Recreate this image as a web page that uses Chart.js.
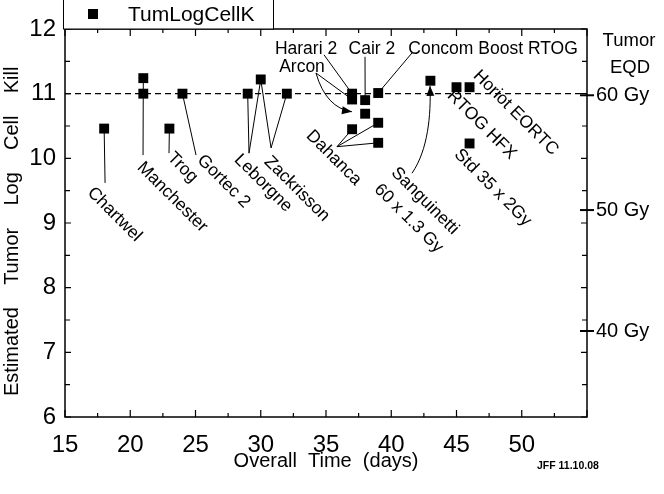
<!DOCTYPE html>
<html><head><meta charset="utf-8">
<script src="https://cdn.jsdelivr.net/npm/chart.js@4.4.0/dist/chart.umd.min.js"></script>
<style>html,body{margin:0;padding:0;background:#fff;}canvas{display:block;}</style>
</head><body>
<canvas id="c" width="664" height="494"></canvas>
<script>
// ---------- data ----------
const seriesName = 'TumLogCellK';
const days    = [18, 21, 21, 23, 24, 29, 30, 32, 37, 37, 37, 38, 38, 39, 39, 39, 43, 45, 46, 46];
const logKill = [10.46, 11.24, 11.0, 10.46, 11.0, 11.0, 11.22, 11.0, 11.0, 10.91, 10.45, 10.9, 10.69, 11.01, 10.55, 10.24, 11.2, 11.1, 11.1, 10.23];
const refLevel = 11;
const xRange = [15, 55];
const yRange = [6, 12];
const eqdLabels = ['60 Gy', '50 Gy', '40 Gy'];
const eqdValues = [10.975, 9.2, 7.33];

// ---------- annotations (data coordinates) ----------
const notes = [
  {text:'Chartwel', at:[16.92, 9.51], rot:45},
  {text:'Manchester', at:[20.75, 9.90], rot:45},
  {text:'Trog', at:[23.05, 10.05], rot:45},
  {text:'Gortec 2', at:[25.34, 10.01], rot:45},
  {text:'Leborgne', at:[28.18, 10.02], rot:45},
  {text:'Zackrisson', at:[30.48, 9.99], rot:45},
  {text:'Dahanca', at:[33.70, 10.39], rot:45},
  {text:'Sanguinetti', at:[40.21, 9.82], rot:45},
  {text:'60 x 1.3 Gy', at:[38.91, 9.56], rot:45},
  {text:'Std 35 x 2Gy', at:[45.04, 10.10], rot:45},
  {text:'RTOG HFX', at:[44.50, 11.01], rot:45},
  {text:'Horiot EORTC', at:[46.49, 11.32], rot:45},
  {text:'Harari 2', at:[33.47, 11.69], rot:0},
  {text:'Arcon', at:[33.16, 11.41], rot:0},
  {text:'Cair 2', at:[38.52, 11.69], rot:0},
  {text:'Concom Boost RTOG', at:[47.80, 11.69], rot:0}
];
const leaders = [
  {from:[18, 10.46], to:[18.07, 9.62]},
  {from:[21, 11.24], to:[20.98, 10.05]},
  {from:[23, 10.46], to:[22.97, 10.08]},
  {from:[24, 11.0], to:[25.04, 10.05]},
  {from:[29, 11.0], to:[29.10, 10.08]},
  {from:[30, 11.22], to:[29.10, 10.08]},
  {from:[30, 11.22], to:[30.79, 10.16]},
  {from:[32, 11.0], to:[30.79, 10.16]},
  {from:[37, 10.45], to:[35.84, 10.18]},
  {from:[39, 10.55], to:[35.84, 10.18]},
  {from:[39, 10.24], to:[35.84, 10.18]},
  {from:[37, 11.0], to:[34.85, 11.60]},
  {from:[37, 10.91], to:[34.23, 11.32]},
  {from:[38, 10.9], to:[37.99, 11.57]},
  {from:[39, 11.01], to:[41.59, 11.63]}
];
const curves = [
  {path:[[34.23, 11.32],[35.0, 10.78],[36.99, 10.72]]},
  {path:[[41.59, 9.77],[42.82, 10.13],[43.05, 10.67],[42.97, 11.12]]}
];

const F = '"Liberation Sans", Arial, Helvetica, sans-serif';
function toPx(chart, p){ return [chart.scales.x.getPixelForValue(p[0]), chart.scales.y.getPixelForValue(p[1])]; }

const decor = {
  id:'decor',
  beforeDatasetsDraw(chart){
    const ctx = chart.ctx; ctx.save();
    ctx.strokeStyle = '#000'; ctx.fillStyle = '#000'; ctx.lineWidth = 1;
    leaders.forEach(l => {
      const a = toPx(chart, l.from), b = toPx(chart, l.to);
      ctx.beginPath(); ctx.moveTo(a[0], a[1]); ctx.lineTo(b[0], b[1]); ctx.stroke();
    });
    curves.forEach(c => {
      const p = c.path.map(q => toPx(chart, q));
      ctx.beginPath(); ctx.moveTo(p[0][0], p[0][1]);
      if (p.length === 3) ctx.quadraticCurveTo(p[1][0], p[1][1], p[2][0], p[2][1]);
      else ctx.bezierCurveTo(p[1][0], p[1][1], p[2][0], p[2][1], p[3][0], p[3][1]);
      ctx.stroke();
      const tip = p[p.length-1], prev = p[p.length-2];
      const ang = Math.atan2(tip[1]-prev[1], tip[0]-prev[0]);
      const L = 10, W = 4;
      ctx.beginPath(); ctx.moveTo(tip[0], tip[1]);
      ctx.lineTo(tip[0]-L*Math.cos(ang)+W*Math.sin(ang), tip[1]-L*Math.sin(ang)-W*Math.cos(ang));
      ctx.lineTo(tip[0]-L*Math.cos(ang)-W*Math.sin(ang), tip[1]-L*Math.sin(ang)+W*Math.cos(ang));
      ctx.closePath(); ctx.fill();
    });
    ctx.restore();
  },
  afterDatasetsDraw(chart){
    const ctx = chart.ctx; ctx.save();
    ctx.fillStyle = '#000'; ctx.font = '17.5px ' + F;
    notes.forEach(n => {
      const p = toPx(chart, n.at);
      ctx.save(); ctx.translate(p[0], p[1]);
      if (n.rot) { ctx.rotate(n.rot*Math.PI/180); ctx.textAlign = 'left'; }
      else ctx.textAlign = 'center';
      ctx.textBaseline = 'middle';
      ctx.fillText(n.text, 0, 0);
      ctx.restore();
    });
    ctx.restore();
  },
  afterDraw(chart){
    const ctx = chart.ctx, a = chart.chartArea;
    const xs = chart.scales.x, ys = chart.scales.y, y2 = chart.scales.y2;
    ctx.save();
    ctx.strokeStyle = '#000'; ctx.lineWidth = 1.5;
    ctx.strokeRect(a.left, a.top, a.right - a.left, a.bottom - a.top);
    ctx.lineWidth = 1.2;
    const xt = xs.ticks.map(t => t.value);
    xt.forEach((v, i) => {
      const x = xs.getPixelForValue(v);
      ctx.beginPath(); ctx.moveTo(x, a.bottom); ctx.lineTo(x, a.bottom - 7);
      ctx.moveTo(x, a.top); ctx.lineTo(x, a.top + 7); ctx.stroke();
      if (i < xt.length - 1) {
        const xm = xs.getPixelForValue((v + xt[i+1]) / 2);
        ctx.beginPath(); ctx.moveTo(xm, a.bottom); ctx.lineTo(xm, a.bottom - 4);
        ctx.moveTo(xm, a.top); ctx.lineTo(xm, a.top + 4); ctx.stroke();
      }
    });
    const yt = ys.ticks.map(t => t.value);
    yt.forEach((v, i) => {
      const y = ys.getPixelForValue(v);
      ctx.beginPath(); ctx.moveTo(a.left, y); ctx.lineTo(a.left + 6, y);
      ctx.moveTo(a.right, y); ctx.lineTo(a.right - 6, y); ctx.stroke();
      if (i < yt.length - 1) {
        const ym = ys.getPixelForValue((v + yt[i+1]) / 2);
        ctx.beginPath(); ctx.moveTo(a.left, ym); ctx.lineTo(a.left + 5, ym);
        ctx.moveTo(a.right, ym); ctx.lineTo(a.right - 5, ym); ctx.stroke();
      }
    });
    ctx.lineWidth = 2;
    y2.ticks.forEach(t => {
      const y = y2.getPixelForValue(t.value);
      ctx.beginPath(); ctx.moveTo(a.right - 7, y); ctx.lineTo(a.right + 7, y); ctx.stroke();
    });
    ctx.lineWidth = 1;
    ctx.fillStyle = '#fff';
    ctx.fillRect(63, -1, 210, a.top + 1);
    ctx.strokeRect(63.5, -1, 210, a.top + 1);
    ctx.fillStyle = '#000';
    ctx.fillRect(88, 9, 10, 10);
    ctx.font = '21px ' + F; ctx.textAlign = 'left'; ctx.textBaseline = 'middle';
    ctx.fillText(seriesName, 128, 15);
    ctx.font = '18.5px ' + F; ctx.textAlign = 'center';
    ctx.fillText('Tumor', 629, 41);
    ctx.fillText('EQD', 630, 68);
    ctx.font = 'bold 10.5px ' + F; ctx.textAlign = 'left';
    ctx.fillText('JFF 11.10.08', 537, 466);
    ctx.restore();
  }
};

const points = days.map((d, i) => ({x: d, y: logKill[i]}));
const refLine = xRange.map(x => ({x: x, y: refLevel}));

new Chart(document.getElementById('c'), {
  type: 'scatter',
  data: {
    datasets: [
      {label: seriesName, data: points, pointStyle: 'rect', pointRadius: 7, pointHoverRadius: 7,
       backgroundColor: '#000', borderColor: '#000', borderWidth: 0, order: 0},
      {type: 'line', label: 'ref', data: refLine, borderColor: '#000', borderWidth: 1.2,
       borderDash: [6, 4], pointRadius: 0, fill: false, order: 1}
    ]
  },
  options: {
    responsive: false, animation: false, devicePixelRatio: 1,
    layout: {padding: {top: 29, left: 0, right: 0, bottom: 0}},
    plugins: {legend: {display: false}, tooltip: {enabled: false}},
    scales: {
      x: {
        type: 'linear', position: 'bottom', min: xRange[0], max: xRange[1],
        grid: {display: false, drawTicks: false}, border: {display: false},
        ticks: {stepSize: 5, color: '#000', padding: 14, font: {family: F, size: 24},
                callback: v => v === xRange[1] ? '' : String(v), maxRotation: 0, autoSkip: false},
        title: {display: true, text: 'Overall  Time  (days)', color: '#000',
                font: {family: F, size: 20}, padding: {top: 0, bottom: 21}},
        afterFit: s => { s.height = 77; }
      },
      y: {
        type: 'linear', position: 'left', min: yRange[0], max: yRange[1],
        grid: {display: false, drawTicks: false}, border: {display: false},
        ticks: {stepSize: 1, color: '#000', padding: 9, font: {family: F, size: 24}},
        title: {display: true, text: 'Estimated    Tumor    Log    Cell    Kill   ', color: '#000',
                font: {family: F, size: 20}, padding: {top: 0, bottom: 0}},
        afterFit: s => { s.width = 65; }
      },
      y2: {
        type: 'linear', position: 'right', min: yRange[0], max: yRange[1],
        grid: {display: false, drawTicks: false}, border: {display: false},
        afterBuildTicks: s => { s.ticks = eqdValues.map(v => ({value: v})); },
        ticks: {color: '#000', padding: 9, font: {family: F, size: 20},
                callback: (v, i) => eqdLabels[i]},
        afterFit: s => { s.width = 77; }
      }
    }
  },
  plugins: [decor]
});
</script>
</body></html>
